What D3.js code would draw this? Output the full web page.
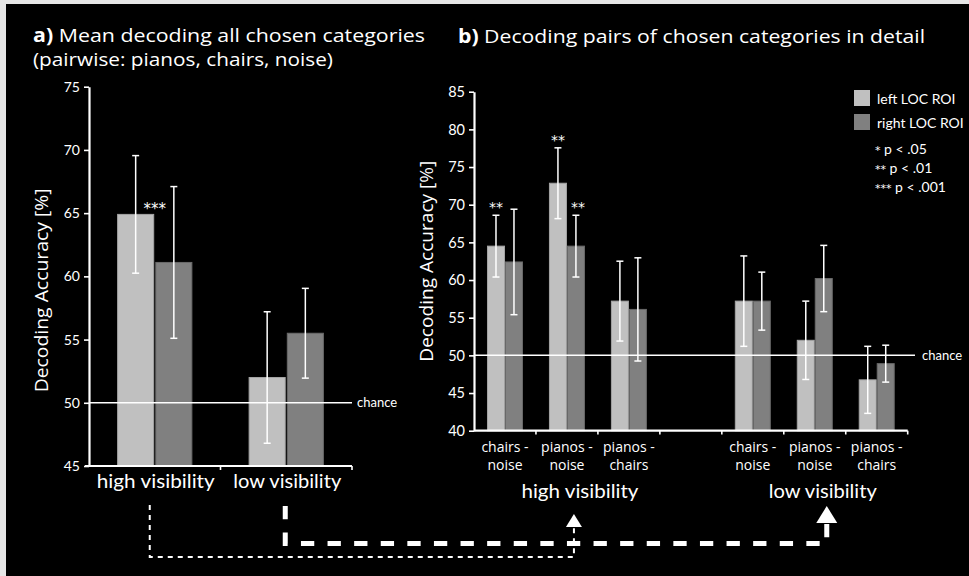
<!DOCTYPE html>
<html>
<head>
<meta charset="utf-8">
<script src="https://cdn.jsdelivr.net/npm/d3@7"></script>
<style>
  body { margin: 0; background: #000; }
  svg { display: block; }
  text { font-family: Lato, "Open Sans", sans-serif; fill: #fff; }
  .os { font-family: "Open Sans", Lato, sans-serif; }
  .star { font-family: "DejaVu Sans", "Open Sans", sans-serif; }
</style>
</head>
<body>
<svg id="chart" width="969" height="576"></svg>
<script>
// ---- data ----
const seriesNames = ["left LOC ROI", "right LOC ROI"];
const seriesColors = ["#c0c0c0", "#808080"];
const seriesEdges = ["#a4a4a4", "#6a6a6a"];

// a) mean decoding over all chosen categories
const meanCategories = ["high visibility", "low visibility"];
const meanLeft = [64.9, 52.0];
const meanLeftErr = [4.65, 5.2];
const meanRight = [61.1, 55.5];
const meanRightErr = [6.0, 3.55];
const meanTicks = [45, 50, 55, 60, 65, 70, 75];
const meanStars = [{ category: "high visibility", series: 0, stars: "***" }];

// b) decoding of the individual category pairs
const pairGroups = ["high visibility", "low visibility"];
const pairNames = [["chairs -", "noise"], ["pianos -", "noise"], ["pianos -", "chairs"]];
const pairLeftHigh = [64.5, 72.85, 57.2];
const pairLeftHighErr = [4.1, 4.7, 5.3];
const pairRightHigh = [62.4, 64.5, 56.1];
const pairRightHighErr = [7.0, 4.1, 6.85];
const pairLeftLow = [57.2, 52.0, 46.75];
const pairLeftLowErr = [6.0, 5.2, 4.45];
const pairRightLow = [57.2, 60.2, 48.9];
const pairRightLowErr = [3.85, 4.4, 2.45];
const pairTicks = [40, 45, 50, 55, 60, 65, 70, 75, 80, 85];
const pairStars = [
  { group: 0, pair: 0, series: 0, stars: "**" },
  { group: 0, pair: 1, series: 0, stars: "**" },
  { group: 0, pair: 1, series: 1, stars: "**" }
];
const significanceLegend = [["*", " p < .05"], ["**", " p < .01"], ["***", " p < .001"]];
const chanceLevel = 50;

// ---- drawing ----
const svg = d3.select("#chart");
svg.append("rect").attr("width", 969).attr("height", 576).attr("fill", "#000");
// light frame along the top and left edges
svg.append("rect").attr("x", 0).attr("y", 0).attr("width", 969).attr("height", 4).attr("fill", "#e6e6e6");
svg.append("rect").attr("x", 0).attr("y", 0).attr("width", 6).attr("height", 576).attr("fill", "#e6e6e6");

function styleAxis(g) {
  g.select(".domain").attr("stroke", "#fff").attr("stroke-width", 2.2);
  g.selectAll(".tick line").attr("stroke", "#fff").attr("stroke-width", 1.6);
  g.selectAll(".tick text").attr("fill", "#fff").style("font-family", "Lato, 'Open Sans', sans-serif");
}

function drawBars(g, rows, x, inner, y) {
  rows.forEach(r => {
    r.values.forEach((v, i) => {
      const x0 = x(r.key) + inner(seriesNames[i]);
      g.append("rect")
        .attr("x", x0).attr("y", y(v))
        .attr("width", inner.bandwidth()).attr("height", y.range()[0] - y(v))
        .attr("fill", seriesColors[i]).attr("stroke", seriesEdges[i]).attr("stroke-width", 1);
    });
  });
  rows.forEach(r => {
    r.values.forEach((v, i) => {
      const cx = x(r.key) + inner(seriesNames[i]) + inner.bandwidth() / 2;
      const top = y(v + r.errs[i]), bot = y(v - r.errs[i]);
      const eb = g.append("g").attr("stroke", "#fff").attr("stroke-width", 1.5);
      eb.append("line").attr("x1", cx).attr("x2", cx).attr("y1", top).attr("y2", bot);
      eb.append("line").attr("x1", cx - 3.5).attr("x2", cx + 3.5).attr("y1", top).attr("y2", top);
      eb.append("line").attr("x1", cx - 3.5).attr("x2", cx + 3.5).attr("y1", bot).attr("y2", bot);
    });
  });
}

// ===== panel a =====
const ga = svg.append("g");
const ya = d3.scaleLinear().domain([45, 75]).range([466, 86.7]);
const xa = d3.scaleBand().domain(meanCategories).range([89, 352]);
const ia = d3.scaleBand().domain(seriesNames).range([0, xa.bandwidth()]).paddingInner(0.055).paddingOuter(0.75);

const meanRows = meanCategories.map((c, k) => ({
  key: c, values: [meanLeft[k], meanRight[k]], errs: [meanLeftErr[k], meanRightErr[k]]
}));
drawBars(ga, meanRows, xa, ia, ya);

ga.append("line").attr("x1", 89).attr("x2", 352).attr("y1", ya(chanceLevel)).attr("y2", ya(chanceLevel))
  .attr("stroke", "#fff").attr("stroke-width", 1.5);
ga.append("text").attr("x", 357).attr("y", ya(chanceLevel)).attr("dy", "0.35em")
  .attr("font-size", 13).text("chance");

const axA = ga.append("g").attr("transform", "translate(89,0)")
  .call(d3.axisLeft(ya).tickValues(meanTicks).tickSize(5).tickSizeOuter(0).tickPadding(4));
axA.selectAll(".tick text").attr("font-size", 14);
styleAxis(axA);

ga.append("line").attr("x1", 85).attr("x2", 352).attr("y1", 466).attr("y2", 466)
  .attr("stroke", "#fff").attr("stroke-width", 2.2);
meanCategories.forEach(c => {
  const xe = xa(c) + xa.bandwidth();
  ga.append("line").attr("x1", xe).attr("x2", xe).attr("y1", 466).attr("y2", 470)
    .attr("stroke", "#fff").attr("stroke-width", 1.6);
});
const meanLabelLen = [118, 108];
meanCategories.forEach((c, k) => {
  ga.append("text").attr("x", xa(c) + xa.bandwidth() / 2 + 1).attr("y", 488)
    .attr("text-anchor", "middle").attr("font-size", 20)
    .attr("textLength", meanLabelLen[k]).attr("lengthAdjust", "spacingAndGlyphs").text(c);
});

meanStars.forEach(s => {
  const k = meanCategories.indexOf(s.category);
  const v = s.series === 0 ? meanLeft[k] : meanRight[k];
  const xr = xa(s.category) + ia(seriesNames[s.series]) + ia.bandwidth();
  ga.append("text").attr("class", "star").attr("x", xr + 1).attr("y", ya(v) - 0.5)
    .attr("text-anchor", "middle").attr("font-size", 15).attr("fill", "#ddd").text(s.stars);
});

ga.append("text").attr("class", "os")
  .attr("transform", `translate(48,${(ya(45) + ya(75)) / 2 + 14}) rotate(-90)`)
  .attr("text-anchor", "middle").attr("font-size", 18)
  .attr("textLength", 204).attr("lengthAdjust", "spacingAndGlyphs").text("Decoding Accuracy [%]");

// titles
const ta = svg.append("text").attr("class", "os").attr("x", 33).attr("y", 42).attr("font-size", 19)
  .attr("textLength", 392).attr("lengthAdjust", "spacingAndGlyphs");
ta.append("tspan").attr("font-weight", "bold").text("a)");
ta.append("tspan").text(" Mean decoding all chosen categories");
svg.append("text").attr("class", "os").attr("x", 33).attr("y", 66).attr("font-size", 19)
  .attr("textLength", 300).attr("lengthAdjust", "spacingAndGlyphs")
  .text("(pairwise: pianos, chairs, noise)");

const tb = svg.append("text").attr("class", "os").attr("x", 458).attr("y", 43).attr("font-size", 19)
  .attr("textLength", 467).attr("lengthAdjust", "spacingAndGlyphs");
tb.append("tspan").attr("font-weight", "bold").text("b)");
tb.append("tspan").text(" Decoding pairs of chosen categories in detail");

// ===== panel b =====
const gb = svg.append("g");
const yb = d3.scaleLinear().domain([40, 85]).range([430.7, 91.7]);
// three pair slots per visibility level, with an empty slot in between
const slots = [];
pairGroups.forEach((grp, gi) => {
  pairNames.forEach((p, pi) => slots.push(`${gi}-${pi}`));
  if (gi < pairGroups.length - 1) slots.push(`gap-${gi}`);
});
const xb = d3.scaleBand().domain(slots).range([474, 907.7]);
const ib = d3.scaleBand().domain(seriesNames).range([0, xb.bandwidth()]).paddingInner(0.055).paddingOuter(0.75);

const pairLeft = [pairLeftHigh, pairLeftLow], pairLeftErr = [pairLeftHighErr, pairLeftLowErr];
const pairRight = [pairRightHigh, pairRightLow], pairRightErr = [pairRightHighErr, pairRightLowErr];
const pairRows = [];
pairGroups.forEach((grp, gi) => pairNames.forEach((p, pi) => pairRows.push({
  key: `${gi}-${pi}`,
  values: [pairLeft[gi][pi], pairRight[gi][pi]],
  errs: [pairLeftErr[gi][pi], pairRightErr[gi][pi]]
})));
drawBars(gb, pairRows, xb, ib, yb);

gb.append("line").attr("x1", 474).attr("x2", 915).attr("y1", yb(chanceLevel)).attr("y2", yb(chanceLevel))
  .attr("stroke", "#fff").attr("stroke-width", 1.5);
gb.append("text").attr("x", 922).attr("y", yb(chanceLevel)).attr("dy", "0.35em")
  .attr("font-size", 13).text("chance");

const axB = gb.append("g").attr("transform", "translate(474,0)")
  .call(d3.axisLeft(yb).tickValues(pairTicks).tickSize(5).tickSizeOuter(0).tickPadding(4));
axB.selectAll(".tick text").attr("font-size", 14.5);
styleAxis(axB);

gb.append("line").attr("x1", 474).attr("x2", 907.7).attr("y1", 430.7).attr("y2", 430.7)
  .attr("stroke", "#fff").attr("stroke-width", 2.2);
slots.forEach(s => {
  const xe = xb(s) + xb.bandwidth();
  gb.append("line").attr("x1", xe).attr("x2", xe).attr("y1", 430.7).attr("y2", 434.5)
    .attr("stroke", "#fff").attr("stroke-width", 1.6);
});
pairGroups.forEach((grp, gi) => pairNames.forEach((p, pi) => {
  const cx = xb(`${gi}-${pi}`) + xb.bandwidth() / 2;
  const t = gb.append("text").attr("class", "os").attr("text-anchor", "middle").attr("font-size", 14);
  t.append("tspan").attr("x", cx).attr("y", 451.5).text(p[0]);
  t.append("tspan").attr("x", cx).attr("y", 469.5).text(p[1]);
}));
const groupLabelShift = [13, 8];
const groupLabelLen = [117, 108];
pairGroups.forEach((grp, gi) => {
  const cx = xb(`${gi}-1`) + xb.bandwidth() / 2 + groupLabelShift[gi];
  gb.append("text").attr("x", cx).attr("y", 498).attr("text-anchor", "middle")
    .attr("font-size", 20).attr("textLength", groupLabelLen[gi]).attr("lengthAdjust", "spacingAndGlyphs")
    .text(grp);
});

pairStars.forEach(s => {
  const v = (s.series === 0 ? pairLeft : pairRight)[s.group][s.pair];
  const e = (s.series === 0 ? pairLeftErr : pairRightErr)[s.group][s.pair];
  const key = `${s.group}-${s.pair}`;
  const cx = xb(key) + ib(seriesNames[s.series]) + ib.bandwidth() / 2 + (s.series === 1 ? 2 : 0);
  gb.append("text").attr("class", "star").attr("x", cx).attr("y", yb(v + e) - 3)
    .attr("text-anchor", "middle").attr("font-size", 14).attr("fill", "#ddd").text(s.stars);
});

gb.append("text").attr("class", "os")
  .attr("transform", `translate(433,${(yb(40) + yb(85)) / 2}) rotate(-90)`)
  .attr("text-anchor", "middle").attr("font-size", 18)
  .attr("textLength", 201).attr("lengthAdjust", "spacingAndGlyphs").text("Decoding Accuracy [%]");

// legend
const lg = svg.append("g");
seriesNames.forEach((n, i) => {
  lg.append("rect").attr("x", 854).attr("y", 90 + i * 24).attr("width", 16).attr("height", 16)
    .attr("fill", seriesColors[i]);
  lg.append("text").attr("x", 877).attr("y", 103.5 + i * 24.5).attr("font-size", 14).text(n);
});
significanceLegend.forEach((t, i) => {
  const row = lg.append("text").attr("x", 875).attr("y", 153.5 + i * 19.2).attr("font-size", 14);
  row.append("tspan").attr("class", "star").attr("font-size", 11).text(t[0]);
  row.append("tspan").text(t[1]);
});

// ===== connecting arrows (panel a levels -> panel b levels) =====
const arrows = svg.append("g");
const hiA = xa("high visibility") + xa.bandwidth() / 2 - 5;
const loA = xa("low visibility") + xa.bandwidth() / 2 - 1;
const hiB = xb("0-1") + xb.bandwidth() / 2 + 7;
const loB = xb("1-1") + xb.bandwidth() / 2 + 12;

arrows.append("path")
  .attr("d", d3.line()([[hiA, 505], [hiA, 557], [hiB, 557], [hiB, 527]]))
  .attr("fill", "none").attr("stroke", "#fff").attr("stroke-width", 2).attr("stroke-dasharray", "5,5");
arrows.append("path")
  .attr("d", d3.line()([[hiB - 8, 527], [hiB + 8, 527], [hiB, 514]]) + "Z")
  .attr("fill", "#fff");

arrows.append("path")
  .attr("d", d3.line()([[loA, 506], [loA, 543.5], [loB, 543.5], [loB, 523]]))
  .attr("fill", "none").attr("stroke", "#fff").attr("stroke-width", 5).attr("stroke-dasharray", "13.3,13.3");
arrows.append("path")
  .attr("d", d3.line()([[loB - 10.5, 523], [loB + 10.5, 523], [loB, 506]]) + "Z")
  .attr("fill", "#fff");
</script>
</body>
</html>
